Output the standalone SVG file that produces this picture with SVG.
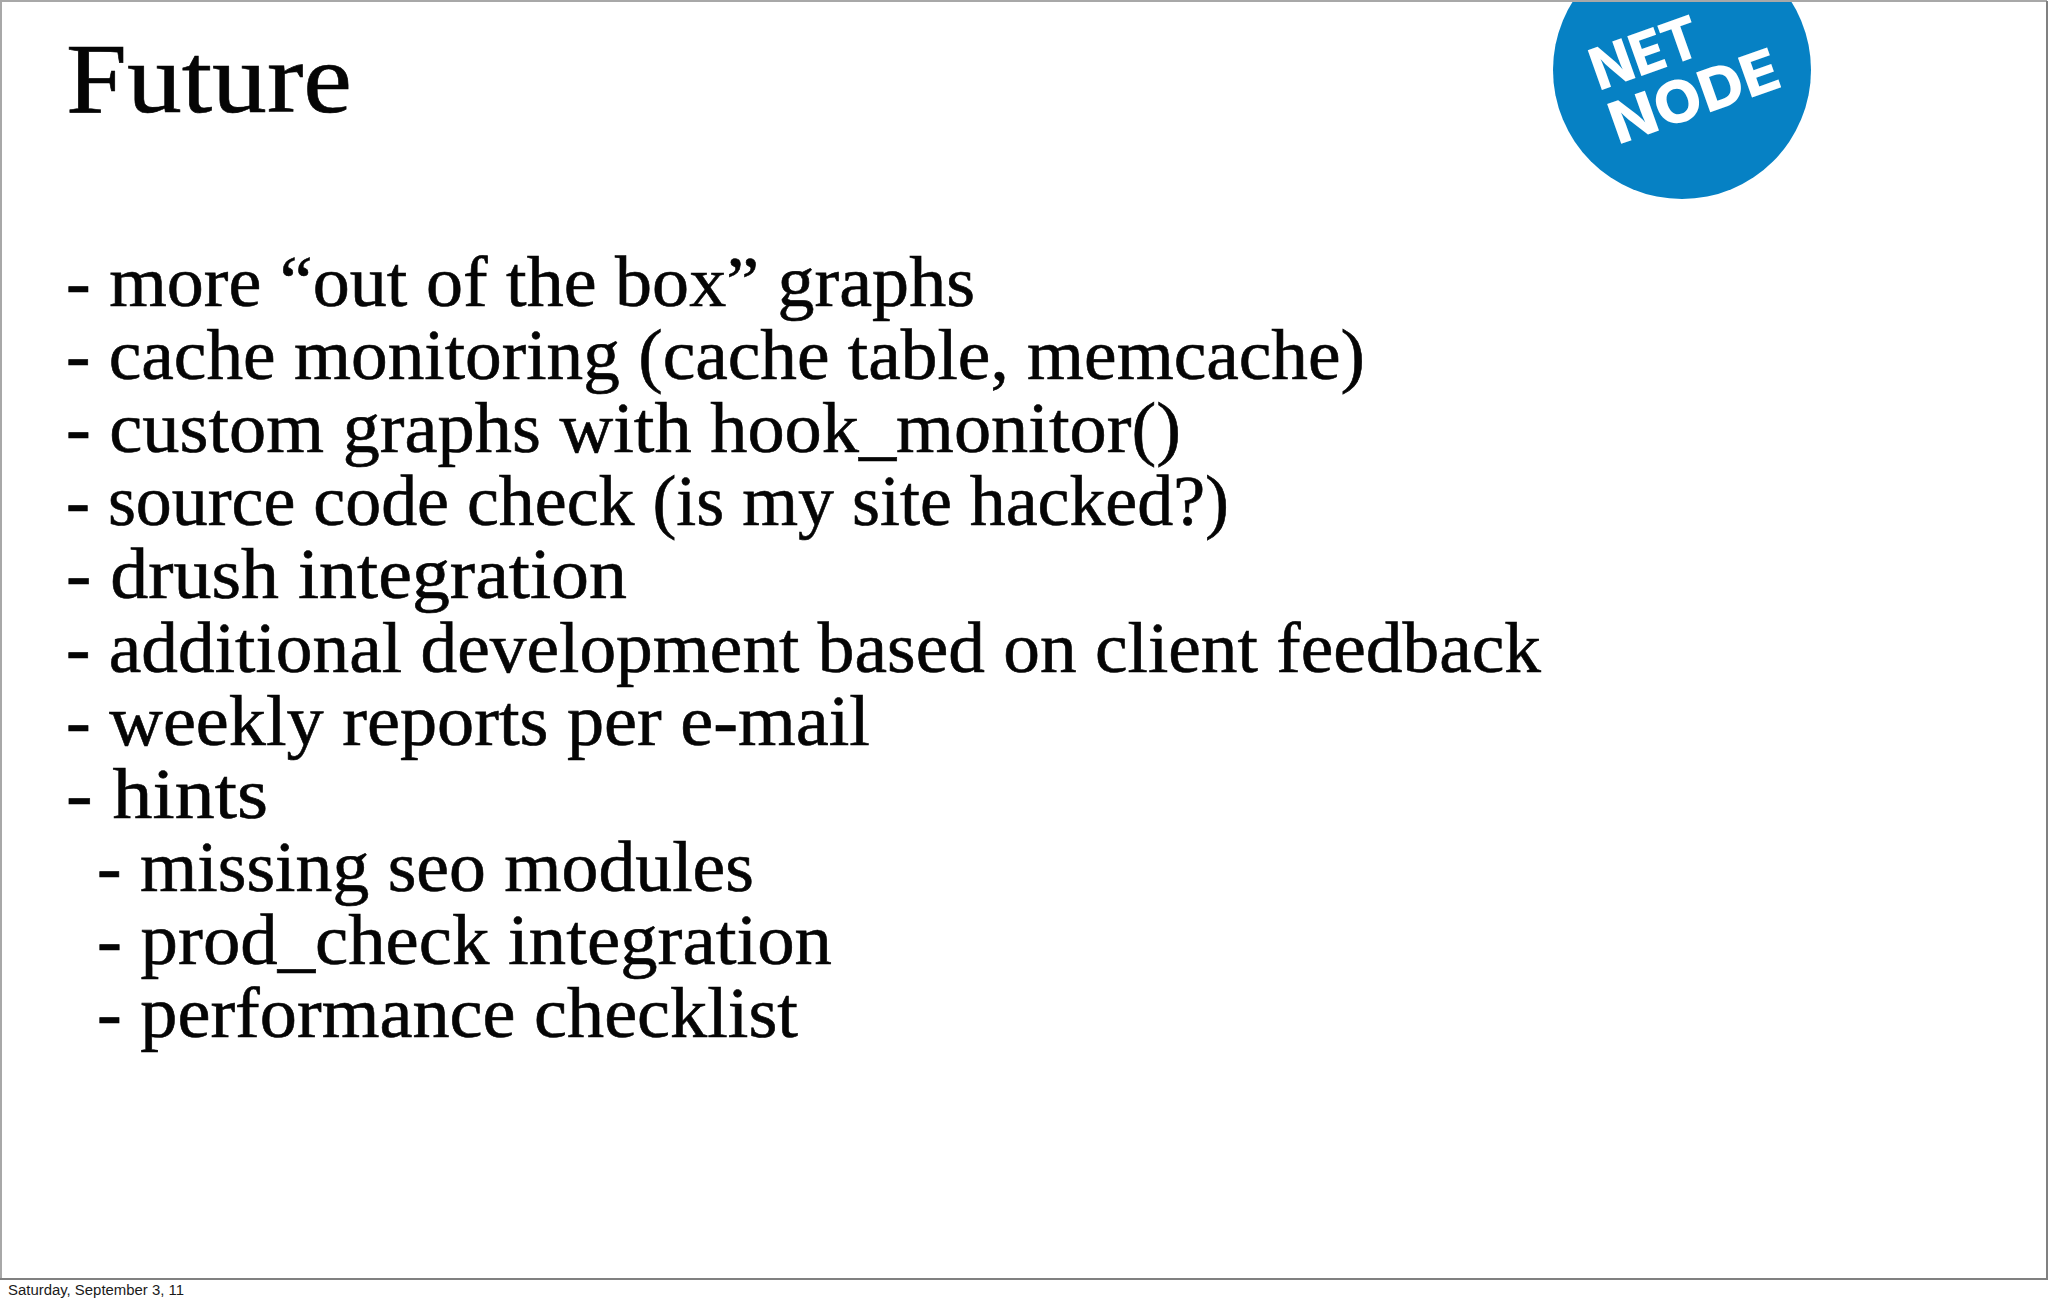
<svg xmlns="http://www.w3.org/2000/svg" width="2048" height="1304" viewBox="0 0 2048 1304">
<style>
.t{font-family:"Liberation Serif",serif;fill:#050505;stroke:#050505;stroke-width:.6px}
.b{font-size:72px}
.l{font-family:Inter,"Liberation Sans",sans-serif;font-weight:800;font-size:58px;fill:#fff}
.f{font-family:"Liberation Sans",Arial,sans-serif;font-size:15.5px;fill:#1a1a1a}
</style>
<rect width="2048" height="1304" fill="#fff"/>
<g id="logo">
<circle cx="1682" cy="70" r="129" fill="#0681c4"/>
<g transform="translate(1599,91) rotate(-19.5)"><text class="l" x="0" y="0" textLength="112" lengthAdjust="spacingAndGlyphs">NET</text></g>
<g transform="translate(1618,145) rotate(-19.5)"><text class="l" x="0" y="0" textLength="176" lengthAdjust="spacingAndGlyphs">NODE</text></g>
</g>
<path d="M1 1279V1H2047" fill="none" stroke="#a8a8a8" stroke-width="2"/>
<path d="M0 1279H2047V1" fill="none" stroke="#808080" stroke-width="2"/>
<g id="title"><text class="t" x="66" y="112" font-size="100" textLength="286" lengthAdjust="spacingAndGlyphs">Future</text></g>
<g id="body">
<text class="t b" x="66" y="306" textLength="909" lengthAdjust="spacingAndGlyphs" word-spacing="0">- more “out of the box” graphs</text>
<text class="t b" x="66" y="379.1" textLength="1299" lengthAdjust="spacingAndGlyphs">- cache monitoring (cache table, memcache)</text>
<text class="t b" x="66" y="452.2" textLength="1115" lengthAdjust="spacingAndGlyphs">- custom graphs with hook_monitor()</text>
<text class="t b" x="66" y="525.3" textLength="1163" lengthAdjust="spacingAndGlyphs">- source code check (is my site hacked?)</text>
<text class="t b" x="66" y="598.4" textLength="561" lengthAdjust="spacingAndGlyphs">- drush integration</text>
<text class="t b" x="66" y="671.5" textLength="1475" lengthAdjust="spacingAndGlyphs">- additional development based on client feedback</text>
<text class="t b" x="66" y="744.6" textLength="804" lengthAdjust="spacingAndGlyphs">- weekly reports per e-mail</text>
<text class="t b" x="66" y="817.7" textLength="202" lengthAdjust="spacingAndGlyphs">- hints</text>
<text class="t b" x="97" y="890.8" textLength="657" lengthAdjust="spacingAndGlyphs">- missing seo modules</text>
<text class="t b" x="97" y="963.9" textLength="735" lengthAdjust="spacingAndGlyphs">- prod_check integration</text>
<text class="t b" x="97" y="1037" textLength="701" lengthAdjust="spacingAndGlyphs">- performance checklist</text>
</g>
<g id="footer"><text class="f" x="8" y="1295" textLength="176" lengthAdjust="spacingAndGlyphs">Saturday, September 3, 11</text></g>
</svg>
